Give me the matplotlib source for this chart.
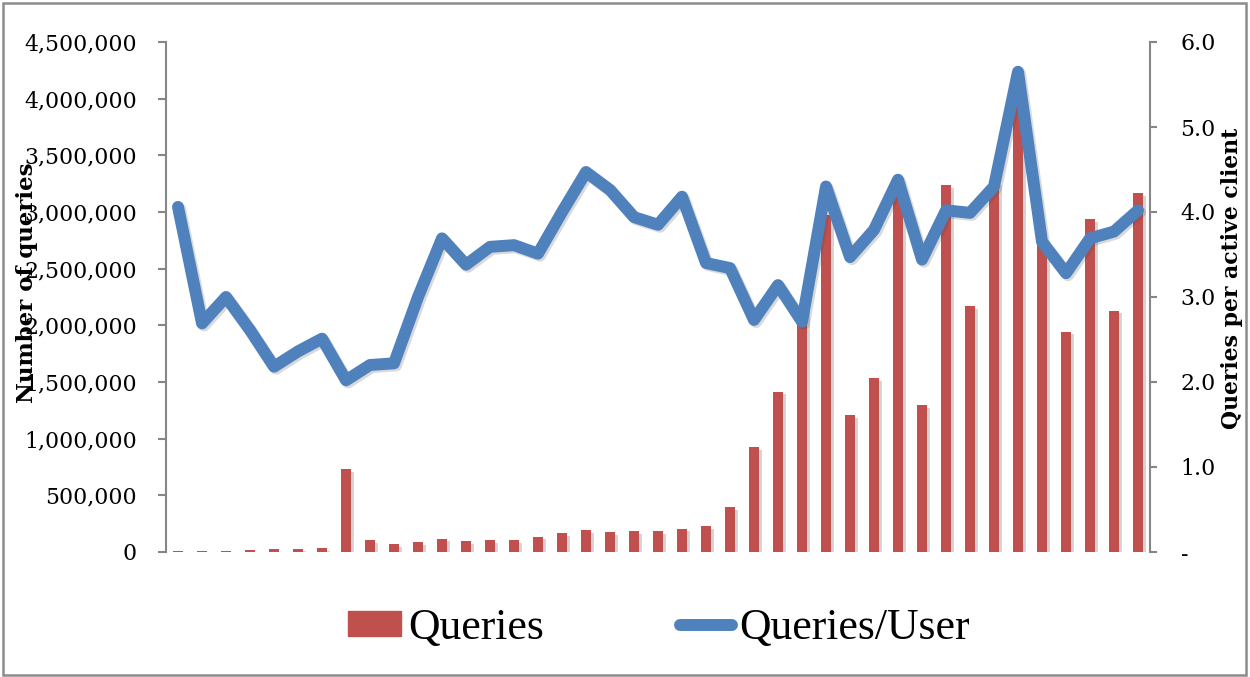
import matplotlib
matplotlib.use("Agg")
import matplotlib.pyplot as plt
import matplotlib.patheffects as pe
from matplotlib.patches import Rectangle
from matplotlib.lines import Line2D
import numpy as np

# ---- data ----
periods = list(range(41))
queries = [5000, 8000, 12000, 20000, 25000, 30000, 35000, 730000, 103000, 68000,
           85000, 118000, 97000, 106000, 106000, 135000, 168000, 194000, 176000, 185000,
           185000, 206000, 229000, 397000, 926000, 1415000, 2175000, 2973000, 1209000, 1532000,
           3180000, 1297000, 3238000, 2170000, 3260000, 3980000, 2720000, 1944000, 2935000, 2129000,
           3165000]
queries_per_user = [4.06, 2.69, 3.00, 2.61, 2.18, 2.36, 2.51, 2.02, 2.20, 2.22,
                    3.00, 3.69, 3.38, 3.59, 3.61, 3.51, 4.00, 4.47, 4.26, 3.94,
                    3.85, 4.18, 3.40, 3.34, 2.73, 3.14, 2.71, 4.30, 3.47, 3.79,
                    4.38, 3.44, 4.02, 3.99, 4.30, 5.65, 3.65, 3.28, 3.69, 3.77,
                    4.02]
left_ticks = [0, 500000, 1000000, 1500000, 2000000, 2500000, 3000000, 3500000, 4000000, 4500000]
right_ticks = [0, 1, 2, 3, 4, 5, 6]
right_labels = ["-", "1.0", "2.0", "3.0", "4.0", "5.0", "6.0"]

BAR_COLOR = "#C0504D"
LINE_COLOR = "#4F81BD"
SPINE_COLOR = "#868686"
TICK_FONT = "DejaVu Serif"
LEG_FONT = "Liberation Serif"

W, H = 1250, 677
fig = plt.figure(figsize=(W / 100, H / 100), dpi=100)
ax = fig.add_axes([166 / W, 1 - 552 / H, (1150 - 166) / W, (552 - 42) / H])
ax2 = ax.twinx()

x = np.array(periods)
bars = ax.bar(x, queries, width=0.42, color=BAR_COLOR, zorder=2,
              path_effects=[pe.SimplePatchShadow(offset=(2, -2), alpha=0.25, shadow_rgbFace="#555555"),
                            pe.Normal()])
line, = ax2.plot(x, queries_per_user, color=LINE_COLOR, lw=8.6,
                 solid_capstyle="round", solid_joinstyle="round", zorder=3,
                 path_effects=[pe.SimpleLineShadow(offset=(1.5, -1.5), alpha=0.2, shadow_color="#444444"),
                               pe.Normal()])

ax.set_xlim(-0.5, len(periods) - 0.5)
ax.set_ylim(0, 4500000)
ax2.set_ylim(0, 6)

ax.set_yticks(left_ticks)
ax.set_yticklabels([f"{v:,}" for v in left_ticks], fontfamily=TICK_FONT, fontsize=15.8)
ax2.set_yticks(right_ticks)
ax2.set_yticklabels(right_labels, fontfamily=TICK_FONT, fontsize=15.8)
ax.set_xticks([])

for a in (ax, ax2):
    a.spines["top"].set_visible(False)
    a.spines["bottom"].set_visible(False)
    a.spines["left"].set_color(SPINE_COLOR)
    a.spines["right"].set_color(SPINE_COLOR)
    a.spines["left"].set_linewidth(1.5)
    a.spines["right"].set_linewidth(1.5)
    a.patch.set_visible(False)
ax.spines["right"].set_visible(False)
ax2.spines["left"].set_visible(False)
ax.tick_params(axis="y", direction="out", length=6, width=1.5, color=SPINE_COLOR, pad=15)
ax2.tick_params(axis="y", direction="out", length=5, width=1.5, color=SPINE_COLOR, pad=17)
for lab in ax2.get_yticklabels():
    lab.set_horizontalalignment("left")

ax.set_zorder(1)
ax2.set_zorder(2)

fig.text(27 / W, 1 - 283 / H, "Number of queries", rotation=90, ha="center", va="center",
         fontfamily=TICK_FONT, fontweight="bold", fontsize=16.5)
fig.text(1232 / W, 1 - 278 / H, "Queries per active client", rotation=90, ha="center", va="center",
         fontfamily=TICK_FONT, fontweight="bold", fontsize=15.8)

handles = [Rectangle((0, 0), 1, 1, color=BAR_COLOR),
           Line2D([0], [0], color=LINE_COLOR, lw=8.6, solid_capstyle="round")]
leg = fig.legend(handles, ["Queries", "Queries/User"], loc="center",
                 bbox_to_anchor=(659 / W, 1 - 628 / H), ncol=2, frameon=False,
                 prop={"family": LEG_FONT, "size": 31.5},
                 handlelength=1.21, handleheight=0.5, handletextpad=0.16,
                 columnspacing=3.1, borderaxespad=0, borderpad=0)

# outer frame
fig.patches.append(Rectangle((3 / W, 2 / H), (W - 7) / W, (H - 5) / H, transform=fig.transFigure,
                             fill=False, edgecolor="#8c8c8c", linewidth=1.8))

fig.savefig("out.png", dpi=100)
